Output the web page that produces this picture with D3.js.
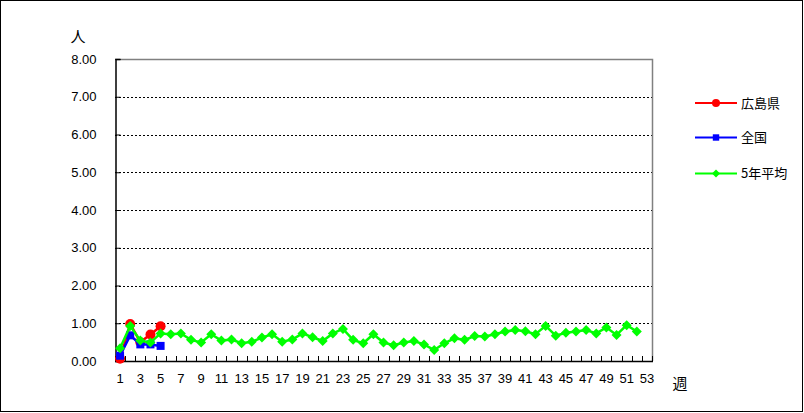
<!DOCTYPE html>
<html><head><meta charset="utf-8">
<script src="https://cdn.jsdelivr.net/npm/d3@7"></script>
<style>
body{margin:0;background:#fff;}
svg{display:block;}
text{font-family:"Liberation Sans",Arial,sans-serif;}
</style></head>
<body>
<script>
const weeks = d3.range(1, 54);
const xTickLabels = weeks.filter(w => w % 2 === 1);
const yTicks = [0,1,2,3,4,5,6,7,8];
const seriesNames = ["広島県", "全国", "5年平均"];
const hiroshima = [0.06, 0.98, 0.50, 0.70, 0.92];
const national = [0.14, 0.68, 0.44, 0.44, 0.40];
const avg5 = [0.34, 0.93, 0.54, 0.49, 0.73, 0.71, 0.73, 0.56, 0.49, 0.71,
  0.54, 0.57, 0.47, 0.51, 0.62, 0.71, 0.51, 0.57, 0.73, 0.63,
  0.53, 0.73, 0.85, 0.56, 0.47, 0.71, 0.49, 0.42, 0.49, 0.53,
  0.44, 0.29, 0.47, 0.60, 0.56, 0.66, 0.65, 0.71, 0.78, 0.82,
  0.79, 0.71, 0.93, 0.67, 0.75, 0.78, 0.82, 0.73, 0.89, 0.69,
  0.95, 0.78];
const colors = ["#FF0000", "#0000FF", "#00FF00"];

const W = 804, H = 413;
const L = 115, R = 652, T = 59, B = 361;
const svg = d3.select("body").append("svg").attr("width", W).attr("height", H);

svg.append("rect").attr("x",0.5).attr("y",0.5).attr("width",W-2).attr("height",H-2)
  .attr("fill","#fff").attr("stroke","#000").attr("stroke-width",1);

const x = d3.scaleBand().domain(weeks).range([L, R]);
const y = d3.scaleLinear().domain([0, 8]).range([B, T]);
const cx = w => x(w) + x.bandwidth()/2;

// gridlines
svg.append("g").selectAll("line").data(yTicks.filter(v => v > 0 && v < 8)).join("line")
  .attr("x1", L).attr("x2", R).attr("y1", d => Math.round(y(d))+0.5).attr("y2", d => Math.round(y(d))+0.5)
  .attr("stroke","#000").attr("stroke-dasharray","2,2").attr("stroke-width",1);

// plot border (gray top/right)
svg.append("path").attr("d", `M${L},${T+0.5}H${R+0.5}V${B}`).attr("fill","none")
  .attr("stroke","#808080").attr("stroke-width",1.5);

// y axis
const yAxis = svg.append("g").attr("transform", `translate(${L+0.5},0)`)
  .call(d3.axisLeft(y).tickValues(yTicks).tickFormat(d3.format(".2f")).tickSize(-5).tickPadding(19));
yAxis.select(".domain").attr("stroke","#000").attr("stroke-width",1.5);
yAxis.selectAll("text").attr("font-size", 13).attr("fill","#000");

// x axis line + inside ticks at category boundaries
svg.append("line").attr("x1", L).attr("x2", R+1).attr("y1", B+0.5).attr("y2", B+0.5)
  .attr("stroke","#000").attr("stroke-width",1.5);
const bounds = weeks.map(w => x(w)).concat([R]);
svg.append("g").selectAll("line").data(bounds).join("line")
  .attr("x1", d => Math.round(d)+0.5).attr("x2", d => Math.round(d)+0.5)
  .attr("y1", B-5).attr("y2", B).attr("stroke","#000").attr("stroke-width",1);

const xAxis = svg.append("g").attr("transform", `translate(0,${B})`)
  .call(d3.axisBottom(x).tickValues(xTickLabels).tickSize(0).tickPadding(13));
xAxis.select(".domain").remove();
xAxis.selectAll("text").attr("font-size", 13).attr("fill","#000");

// axis titles
svg.append("text").attr("x", 78).attr("y", 42).attr("text-anchor","middle")
  .attr("font-size", 15).style("font-family","'Noto Sans CJK JP',sans-serif").text("人");
svg.append("text").attr("x", 680).attr("y", 389).attr("text-anchor","middle")
  .attr("font-size", 15).style("font-family","'Noto Sans CJK JP',sans-serif").text("週");

// series
const series = [hiroshima, national, avg5];
const line = d3.line().x((d,i) => cx(weeks[i])).y(d => y(d));
function marker(g, k, px, py, s) {
  if (k === 0) g.append("circle").attr("cx", px).attr("cy", py).attr("r", 5*s).attr("fill", colors[0]);
  else if (k === 1) g.append("rect").attr("x", px-4*s).attr("y", py-4*s).attr("width", 8*s).attr("height", 8*s).attr("fill", colors[1]);
  else g.append("path").attr("d", `M${px},${py-5*s}L${px+5*s},${py}L${px},${py+5*s}L${px-5*s},${py}Z`).attr("fill", colors[2]);
}
series.forEach((s, k) => {
  const g = svg.append("g");
  g.append("path").attr("d", line(s)).attr("fill","none").attr("stroke", colors[k]).attr("stroke-width", 2.5);
  s.forEach((v, i) => marker(g, k, cx(weeks[i]), y(v), 1));
});

// legend
const legY = [103, 137.5, 173.5];
seriesNames.forEach((n, k) => {
  const g = svg.append("g");
  g.append("line").attr("x1", 695).attr("x2", 737).attr("y1", legY[k]).attr("y2", legY[k])
    .attr("stroke", colors[k]).attr("stroke-width", 2);
  marker(g, k, 716, legY[k], 0.8);
  g.append("text").attr("x", 741).attr("y", legY[k]).attr("dy","0.35em").attr("font-size", 13)
    .style("font-family","'Noto Sans CJK JP',sans-serif").text(n);
});
</script>
</body></html>
